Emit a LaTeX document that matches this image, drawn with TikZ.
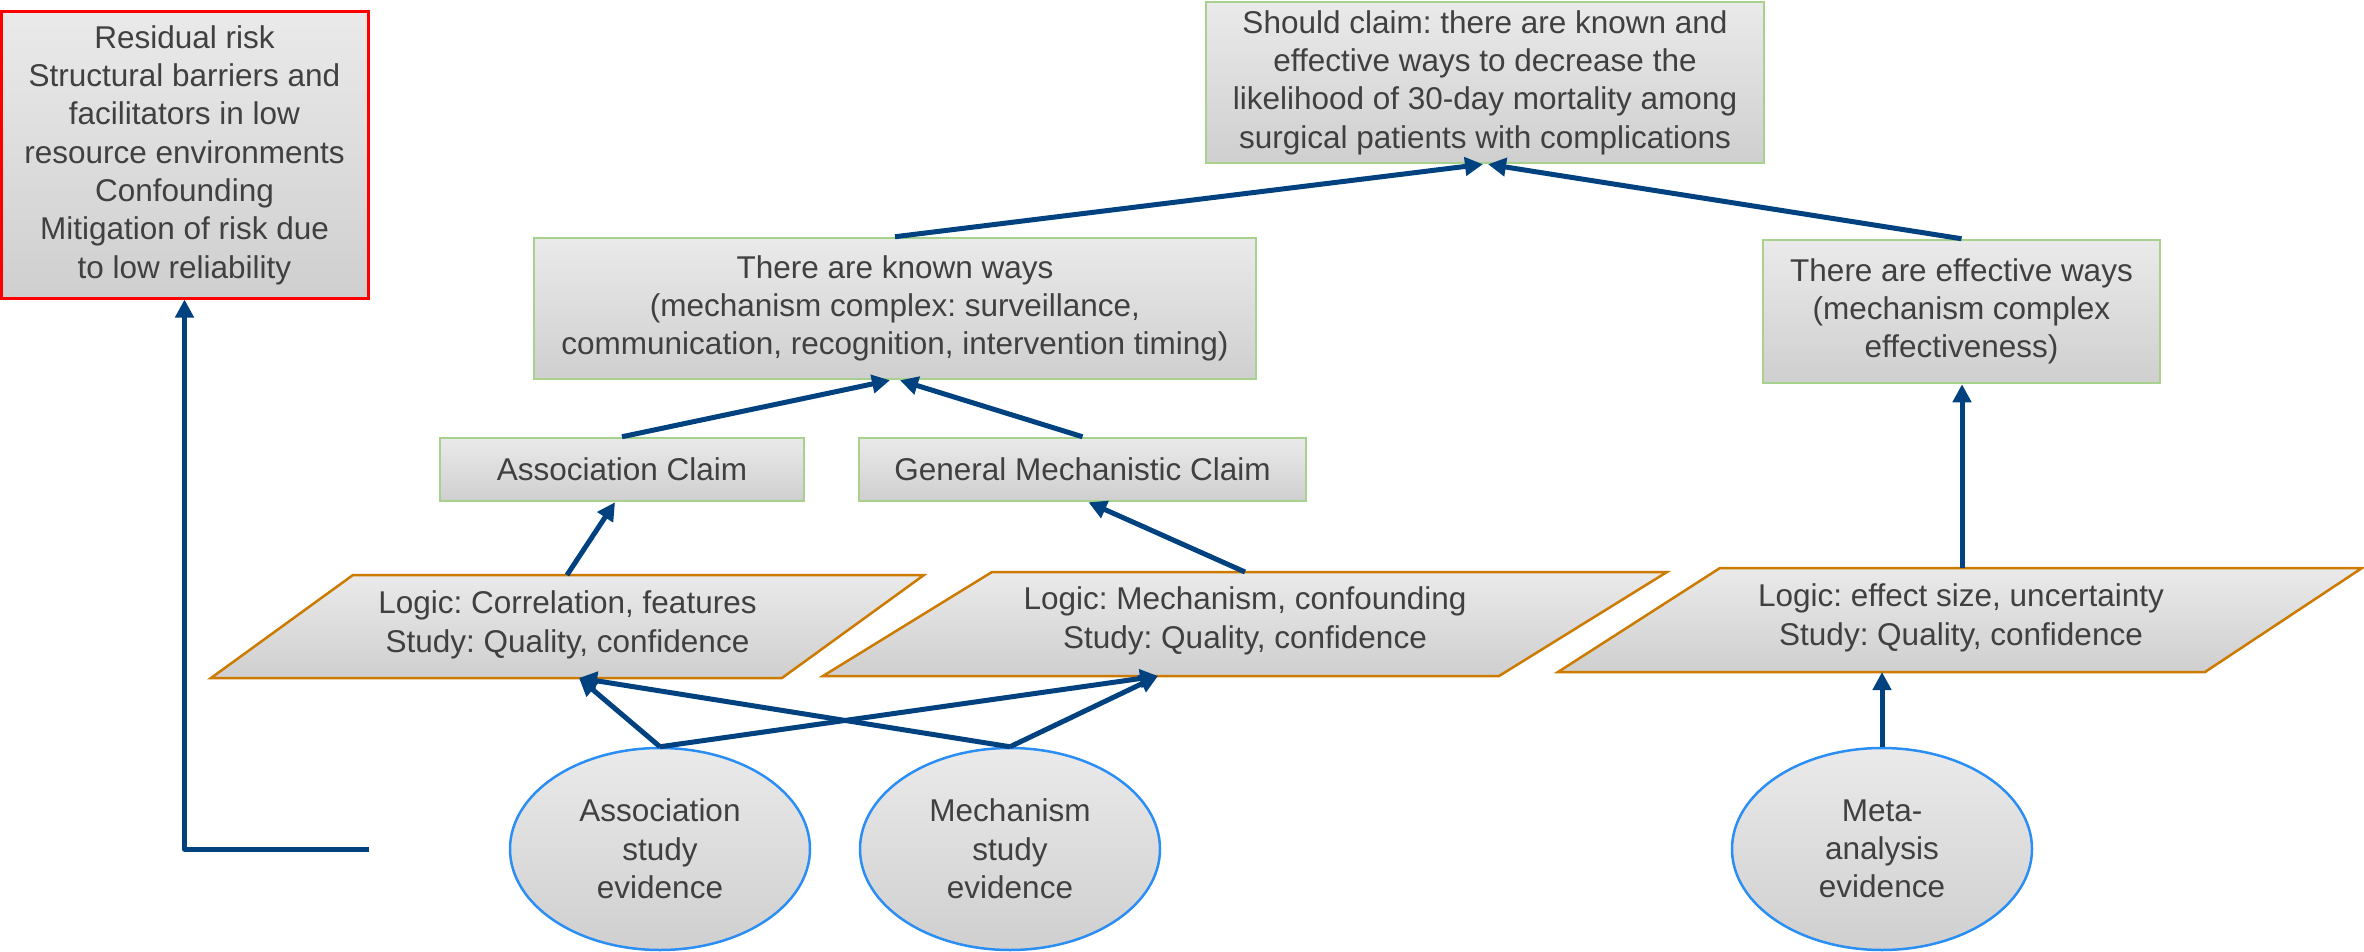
\documentclass[tikz,border=0pt]{standalone}
\usepackage{fontspec}
\setmainfont{Liberation Sans}
\usetikzlibrary{arrows.meta,shapes.geometric}
\definecolor{txt}{HTML}{404040}
\definecolor{gtop}{HTML}{EAEAEA}
\definecolor{gbot}{HTML}{CFCFCF}
\definecolor{grn}{HTML}{A9D18E}
\definecolor{org}{HTML}{CC7A00}
\definecolor{blu}{HTML}{2B8EF5}
\definecolor{arr}{HTML}{00427F}
\frenchspacing
\begin{document}
\begin{tikzpicture}[x=1pt,y=-1pt,
  every node/.style={text=txt, font=\fontsize{31.5}{38.3}\selectfont, align=center, inner sep=0pt},
  claim/.style={rectangle, draw=grn, line width=2.5pt, top color=gtop, bottom color=gbot},
  riskbox/.style={rectangle, draw=red, line width=3pt, top color=gtop, bottom color=gbot},
  logicbox/.style={draw=org, line width=2.5pt, line join=miter, top color=gtop, bottom color=gbot},
  evidence/.style={ellipse, draw=blu, line width=2.5pt, top color=gtop, bottom color=gbot,
    minimum width=300pt, minimum height=202pt},
  conn/.style={draw=arr, line width=5pt, -{Triangle[length=18pt,width=18pt]}}
]
\useasboundingbox (0,0) rectangle (2364,952);

% claim boxes
\node[riskbox, minimum width=367pt, minimum height=286pt] (risk) at (184.5,155)
  {Residual risk\\Structural barriers and\\facilitators in low\\resource environments\\Confounding\\Mitigation of risk due\\to low reliability};
\node[claim, minimum width=558pt, minimum height=161pt] (top) at (1485,82.5)
  {Should claim: there are known and\\effective ways to decrease the\\likelihood of 30-day mortality among\\surgical patients with complications};
\node[claim, minimum width=722pt, minimum height=141pt] (known) at (895,308.5)
  {There are known ways\\(mechanism complex: surveillance,\\communication, recognition, intervention timing)};
\node[claim, minimum width=397pt, minimum height=143pt] (effective) at (1961.5,311.5)
  {There are effective ways\\(mechanism complex\\effectiveness)};
\node[claim, minimum width=364pt, minimum height=63pt] (assocclaim) at (622,469.5)
  {Association Claim};
\node[claim, minimum width=447pt, minimum height=63pt] (mechclaim) at (1082.5,469.5)
  {General Mechanistic Claim};

% logic parallelograms
\path[logicbox] (353,575) -- (924,575) -- (782,678) -- (211,678) -- cycle;
\node (p1) at (567.5,625) {Logic: Correlation, features\\Study: Quality, confidence};
\path[logicbox] (992,572) -- (1667,572) -- (1499,676) -- (823,676) -- cycle;
\node (p2) at (1245,621) {Logic: Mechanism, confounding\\Study: Quality, confidence};
\path[logicbox] (1720,568) -- (2362,568) -- (2205,672) -- (1558,672) -- cycle;
\node (p3) at (1961,618) {Logic: effect size, uncertainty\\Study: Quality, confidence};

\coordinate (p1top) at (567,575);
\coordinate (p1bot) at (579,678);
\coordinate (p2top) at (1245,572);
\coordinate (p2bot) at (1158,676);
\coordinate (p3top) at (1962,568);
\coordinate (p3bot) at (1882,672);

% evidence ellipses
\node[evidence] (assoc) at (660,849) {Association\\study\\evidence};
\node[evidence] (mech) at (1010,849) {Mechanism\\study\\evidence};
\node[evidence] (meta) at (1882,849) {Meta-\\analysis\\evidence};

\coordinate (rsrc) at (369,849);

% connectors
\draw[conn] (assoc.north) -- (p1bot);
\draw[conn] (assoc.north) -- (p2bot);
\draw[conn] (mech.north) -- (p1bot);
\draw[conn] (mech.north) -- (p2bot);
\draw[conn] (meta.north) -- (p3bot);
\draw[conn] (p1top) -- ([xshift=-7pt]assocclaim.south);
\draw[conn] (p2top) -- ([xshift=6pt]mechclaim.south);
\draw[conn] (p3top) -- (effective.south -| p3top);
\draw[conn] (assocclaim.north) -- ([xshift=-5pt]known.south);
\draw[conn] (mechclaim.north) -- ([xshift=5pt]known.south);
\draw[conn] (known.north) -- ([xshift=-2pt]top.south);
\draw[conn] (effective.north) -- ([xshift=3pt]top.south);
\draw[conn, line join=round] (rsrc) -| (risk.south);
\end{tikzpicture}
\end{document}
